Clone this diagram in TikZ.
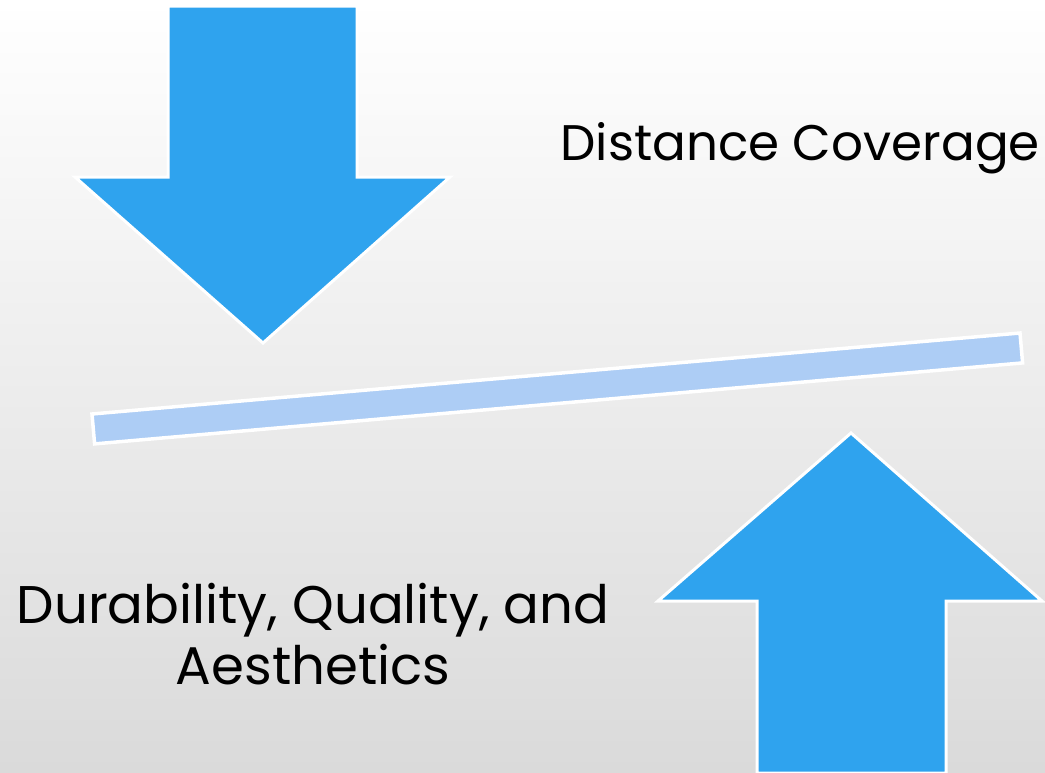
\documentclass[tikz,border=0pt]{standalone}
\usepackage{fontspec}
\setmainfont{Poppins}
\definecolor{arrowblue}{HTML}{2FA3EE}
\definecolor{barblue}{HTML}{ADCDF5}
\definecolor{bgtop}{HTML}{FFFFFF}
\definecolor{bgbottom}{HTML}{DADADA}
\begin{document}
\begin{tikzpicture}[x=1pt,y=-1pt,
  blockarrow/.style={fill=arrowblue,draw=white,line width=3pt,line join=miter},
  beam/.style={fill=barblue,draw=white,line width=3.5pt},
  label/.style={font=\fontsize{50}{61}\selectfont,text=black,inner sep=0pt},
  biglabel/.style={font=\fontsize{53}{61}\selectfont,text=black,inner sep=0pt}]
  % background
  \shade[top color=bgtop,bottom color=bgbottom] (0,0) rectangle (1045,772);
  \useasboundingbox (0,0) rectangle (1045,772);
  % downward arrow
  \draw[blockarrow] (168,6) -- (357,6) -- (357,177) -- (450,177) -- (263,343)
    -- (75,177) -- (168,177) -- cycle;
  % tilted beam
  \draw[beam] (92,414) -- (1020,333) -- (1022.6,362.9) -- (94.6,443.9) -- cycle;
  % upward arrow
  \draw[blockarrow] (851,433) -- (1042,601) -- (946,601) -- (946,773)
    -- (757,773) -- (757,601) -- (658,601) -- cycle;
  % labels
  \node[label,anchor=base east] (dist) at (1040,160) {Distance Coverage};
  \node[biglabel,align=center,anchor=center] (dur) at (313,634)
    {Durability, Quality, and\\Aesthetics};
\end{tikzpicture}
\end{document}
